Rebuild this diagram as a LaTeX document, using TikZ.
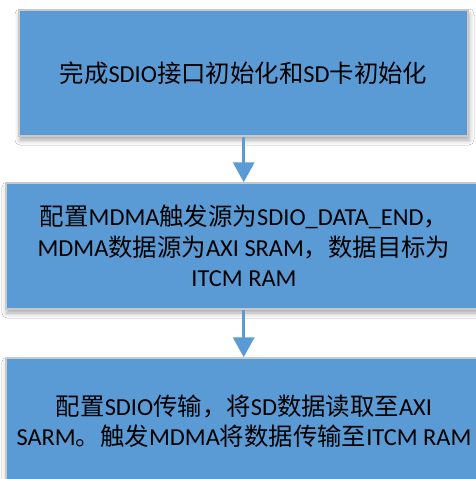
\documentclass[tikz,border=0pt]{standalone}
\usepackage{fontspec}
\setmainfont{Carlito}
\newfontfamily\cjk{Noto Sans CJK SC}
\newcommand\zh[1]{{\cjk #1}}
\usetikzlibrary{arrows.meta,shadows.blur}
\definecolor{boxblue}{HTML}{5B9BD5}
\definecolor{boxedge}{HTML}{C9C9C9}
\begin{document}
\begin{tikzpicture}[x=1pt,y=-1pt,
  flowbox/.style={rectangle, fill=boxblue, draw=boxedge, line width=1.5pt,
    inner sep=0pt, minimum width=#1, minimum height=126pt, align=center,
    font=\fontsize{24.4}{30.5}\selectfont, text=black,
    blur shadow={shadow xshift=1pt, shadow yshift=-4pt, shadow blur radius=5pt, shadow opacity=35}},
  flowarrow/.style={draw=boxblue, line width=3.5pt, -{Triangle[width=21pt,length=20pt,fill=boxblue]}}]
\clip (0,0) rectangle (476,479);
\useasboundingbox (0,0) rectangle (476,479);
\fill[white] (0,0) rectangle (476,479);
\node[flowbox=449pt] (b1) at (243.5,73) {\zh{完成}SDIO\zh{接口初始化和}SD\zh{卡初始化}};
\node[flowbox=476pt] (b2) at (244,246) {\zh{配置}MDMA\zh{触发源为}SDIO\_DATA\_END\zh{，}\\MDMA\zh{数据源为}AXI SRAM\zh{，数据目标为}\\ITCM RAM};
\node[flowbox=476pt] (b3) at (244,421) {\zh{配置}SDIO\zh{传输，将}SD\zh{数据读取至}AXI\\SARM\zh{。触发}MDMA\zh{将数据传输至}ITCM RAM};
\draw[flowarrow] (b1.south -| 243.7,0) -- (b2.north -| 243.7,0);
\draw[flowarrow] (b2.south -| 243.7,0) -- (b3.north -| 243.7,0);
\end{tikzpicture}
\end{document}
